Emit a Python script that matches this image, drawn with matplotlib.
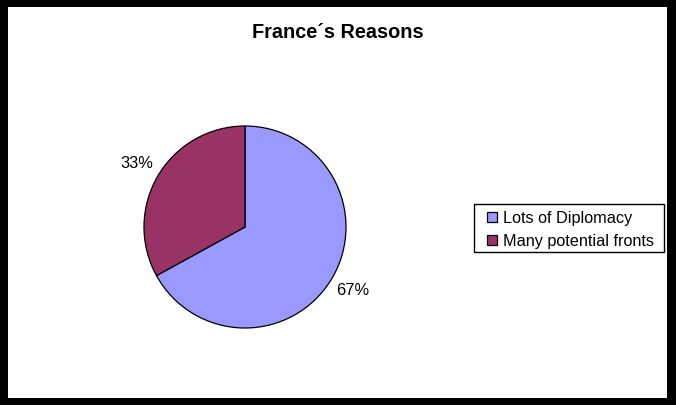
import matplotlib.pyplot as plt
from matplotlib.patches import Rectangle

plt.rcParams['font.family'] = ['Liberation Sans', 'DejaVu Sans']

labels = ['Lots of Diplomacy', 'Many potential fronts']
values = [67, 33]
colors = ['#9999FF', '#993366']

W, H = 676, 405


def fx(x):
    return x / W


def fy(y):
    return 1 - y / H


fig = plt.figure(figsize=(W / 100, H / 100), dpi=100, facecolor='black')

# white chart area inside the thick black border
fig.patches.append(Rectangle((fx(8), fy(398)), (667 - 8) / W, (398 - 7) / H,
                             transform=fig.transFigure, facecolor='white',
                             edgecolor='none', zorder=-5))

# pie centre ~ (245, 227) px, radius ~101 px
cx, cy, r = 245, 227, 101
ax = fig.add_axes([fx(cx - r), fy(cy + r), 2 * r / W, 2 * r / H])
ax.set_zorder(2)
wedges, texts, autotexts = ax.pie(
    values, colors=colors, startangle=90, counterclock=False,
    autopct='%1.0f%%', pctdistance=1.24,
    wedgeprops=dict(edgecolor='black', linewidth=0.9),
    textprops=dict(fontsize=11.8, color='black'))
ax.set_xlim(-1, 1)
ax.set_ylim(-1, 1)
ax.set_aspect('equal')
ax.axis('off')
for t in autotexts:
    t.set_clip_on(False)

fig.text(fx(338), fy(33), 'France\u00b4s Reasons', ha='center', va='center',
         fontsize=14.3, fontweight='bold', zorder=3)

# legend box drawn by hand to match the original spacing
fig.patches.append(Rectangle((fx(474), fy(252)), (664 - 474) / W, (252 - 204) / H,
                             transform=fig.transFigure, facecolor='white',
                             edgecolor='black', linewidth=1, zorder=3))
row_y = [216.5, 240]
for lab, col, yy in zip(labels, colors, row_y):
    fig.patches.append(Rectangle((fx(487), fy(yy + 5)), 10 / W, 10 / H,
                                 transform=fig.transFigure, facecolor=col,
                                 edgecolor='black', linewidth=0.9, zorder=4))
    fig.text(fx(503), fy(yy), lab, ha='left', va='center_baseline',
             fontsize=11.7, zorder=4)

fig.savefig('out.png', dpi=100, facecolor='black')
